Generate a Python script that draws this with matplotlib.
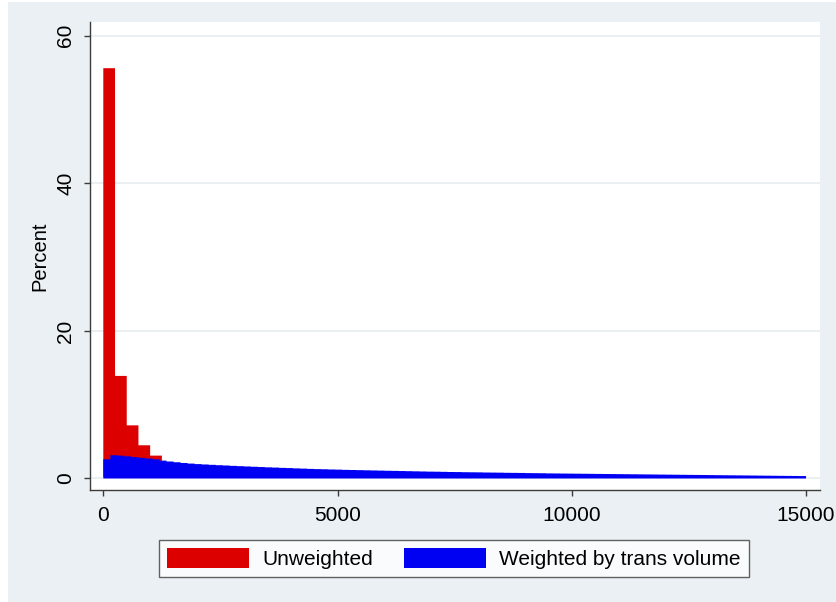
import numpy as np
import matplotlib
matplotlib.use("Agg")
import matplotlib.pyplot as plt
from matplotlib.patches import Rectangle, Patch

plt.rcParams['font.family'] = ['Liberation Sans', 'DejaVu Sans']

# unweighted histogram, bins of 250 starting at 0
red_width = 250
red_pct = [55.6, 13.9, 7.2, 4.5, 3.1, 2.2, 1.7, 1.4, 1.1, 0.9,
           0.75, 0.65, 0.55, 0.5, 0.45, 0.4, 0.36, 0.33, 0.3, 0.27]

# weighted by trans volume, bins of 150 from 0 to 15000
blue_width = 150
blue_pct = [2.60, 3.15, 3.10, 3.00, 2.90, 2.80, 2.70, 2.60, 2.42, 2.30,
            2.20, 2.10, 2.02, 1.95, 1.90, 1.85, 1.80, 1.76, 1.71, 1.67,
            1.63, 1.59, 1.55, 1.51, 1.48, 1.44, 1.41, 1.37, 1.34, 1.30,
            1.27, 1.25, 1.22, 1.20, 1.17, 1.15, 1.13, 1.11, 1.09, 1.07,
            1.05, 1.03, 1.01, 0.99, 0.97, 0.95, 0.93, 0.92, 0.90, 0.88,
            0.87, 0.85, 0.84, 0.83, 0.81, 0.80, 0.79, 0.77, 0.76, 0.75,
            0.73, 0.72, 0.71, 0.69, 0.68, 0.67, 0.66, 0.65, 0.64, 0.63,
            0.62, 0.61, 0.60, 0.59, 0.58, 0.57, 0.56, 0.55, 0.54, 0.53,
            0.52, 0.51, 0.50, 0.49, 0.48, 0.47, 0.46, 0.45, 0.44, 0.43,
            0.42, 0.41, 0.40, 0.39, 0.38, 0.37, 0.36, 0.35, 0.34, 0.33]

x_ticks = [0, 5000, 10000, 15000]
y_ticks = [0, 20, 40, 60]
labels = ["Unweighted", "Weighted by trans volume"]

bg = '#eaf0f3'
red = '#dc0000'
blue = '#0000f2'
edge = '#3c3c3c'

fig = plt.figure(figsize=(8.36, 6.02), dpi=100, facecolor='white')
fig.patches.append(Rectangle((8 / 836, 0), 1, 1 - 2 / 602, transform=fig.transFigure,
                             facecolor=bg, edgecolor='none', zorder=-10))

ax = fig.add_axes([90 / 836, 1 - 490 / 602, 730 / 836, 468 / 602])
ax.set_facecolor('white')

# one filled step polygon per series, so no seams between bins
# (red base lifted a hair so its antialiased bottom edge stays hidden under blue)
red_edges = np.arange(len(red_pct) + 1) * red_width
blue_edges = np.arange(len(blue_pct) + 1) * blue_width
ax.stairs(red_pct, red_edges, baseline=0.25, fill=True, color=red, linewidth=0,
          zorder=2, snap=False)
ax.stairs(blue_pct, blue_edges, fill=True, color=blue, linewidth=0, zorder=3, snap=False)

ax.set_xlim(-284, 15298)
ax.set_ylim(-1.56, 61.86)
ax.set_xticks(x_ticks)
ax.set_yticks(y_ticks)
ax.set_yticklabels([str(v) for v in y_ticks], rotation=90, va='center')
ax.grid(axis='y', color='#e6ecef', linewidth=1.2, zorder=0)
ax.set_axisbelow(True)

for s in ['top', 'right']:
    ax.spines[s].set_visible(False)
for s in ['left', 'bottom']:
    ax.spines[s].set_color(edge)
    ax.spines[s].set_linewidth(1.0)

ax.tick_params(axis='both', colors=edge, labelcolor='black', length=4.5, width=1.0,
               labelsize=15)
ax.tick_params(axis='y', pad=6)
ax.tick_params(axis='x', pad=7)
ax.set_ylabel("Percent", fontsize=14.5, labelpad=5)

handles = [Patch(facecolor=red, edgecolor='none'), Patch(facecolor=blue, edgecolor='none')]
leg = fig.legend(handles, labels, loc='center', bbox_to_anchor=(454 / 836, 1 - 558.5 / 602),
                 ncol=2, fontsize=15, frameon=True, fancybox=False, shadow=False,
                 handlelength=3.9, handleheight=1.1, handletextpad=0.65,
                 columnspacing=1.5, borderpad=0.4, borderaxespad=0)
leg.get_frame().set_edgecolor(edge)
leg.get_frame().set_linewidth(1.0)
leg.get_frame().set_facecolor('white')

fig.savefig('out.png', dpi=100, facecolor=fig.get_facecolor())
